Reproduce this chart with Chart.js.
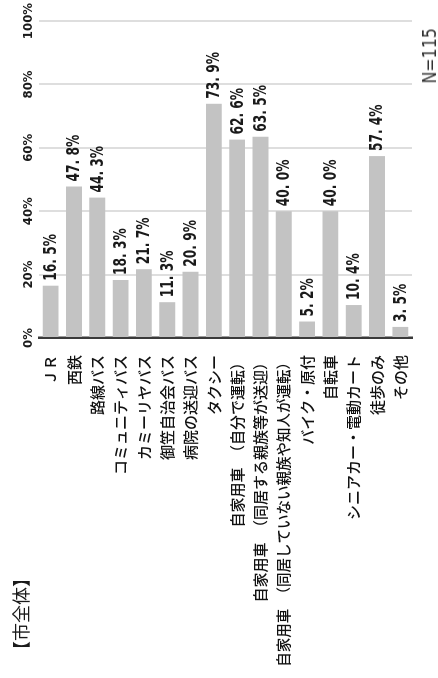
<!DOCTYPE html>
<html lang="ja">
<head>
<meta charset="utf-8">
<title>移動手段（市全体）</title>
<script src="https://cdn.jsdelivr.net/npm/chart.js@4/dist/chart.umd.min.js"></script>
<style>
  html, body { margin: 0; padding: 0; background: #fff; overflow: hidden; }
  body { width: 438px; height: 678px; position: relative; }
  /* The chart is laid out as a horizontal bar chart and turned a quarter turn
     so that the page reads sideways, as in the printed report. */
  #sheet {
    position: absolute; left: 0; top: 0;
    width: 678px; height: 438px;
    transform-origin: 0 0;
    transform: translate(0, 678px) rotate(-90deg);
  }
  #sheet canvas { display: block; }
  .note { position: absolute; white-space: nowrap; color: #1a1a1a; }
  .heading {
    left: 19px; top: 7px; line-height: 20px;
    font: 18px "Noto Sans CJK JP", sans-serif;
  }
  .count {
    right: 28px; top: 417px; line-height: 24px;
    font: 20px "DejaVu Sans Condensed", sans-serif;
    color: #333;
    transform-origin: right center;
    transform: scaleX(0.88);
  }
</style>
</head>
<body>
<div id="sheet">
  <canvas id="chart" width="678" height="438"></canvas>
  <div class="note heading">【市全体】</div>
  <div class="note count">N=115</div>
</div>
<script>
// 利用している移動手段（複数回答）
const categories = [
  'ＪＲ',
  '西鉄',
  '路線バス',
  'コミュニティバス',
  'カミーリヤバス',
  '御笠自治会バス',
  '病院の送迎バス',
  'タクシー',
  '自家用車　（自分で運転）',
  '自家用車　（同居する親族等が送迎）',
  '自家用車　（同居していない親族や知人が運転）',
  'バイク・原付',
  '自転車',
  'シニアカー・電動カート',
  '徒歩のみ',
  'その他'
];
const shares = [16.5, 47.8, 44.3, 18.3, 21.7, 11.3, 20.9, 73.9, 62.6, 63.5, 40.0, 5.2, 40.0, 10.4, 57.4, 3.5];
const percentTicks = [0, 20, 40, 60, 80, 100];

const formatShare = v => v.toFixed(1).replace('.', '. ') + '%';

// Writes each bar's percentage just past the end of the bar, in a narrow face.
const shareLabels = {
  id: 'shareLabels',
  afterDatasetsDraw(chart) {
    const { ctx } = chart;
    const meta = chart.getDatasetMeta(0);
    const values = chart.data.datasets[0].data;
    ctx.save();
    ctx.font = 'bold 17px "DejaVu Sans Condensed", sans-serif';
    ctx.fillStyle = '#1a1a1a';
    ctx.textAlign = 'left';
    ctx.textBaseline = 'middle';
    meta.data.forEach((bar, i) => {
      const text = formatShare(values[i]);
      const narrow = ctx.measureText(text).width * 0.8;
      ctx.fillText(text, bar.x + 5, bar.y + 1, narrow);
    });
    ctx.restore();
  }
};

new Chart(document.getElementById('chart'), {
  type: 'bar',
  data: {
    labels: categories,
    datasets: [{
      data: shares,
      backgroundColor: '#c3c3c3',
      borderWidth: 0,
      barPercentage: 0.68,
      categoryPercentage: 1
    }]
  },
  options: {
    indexAxis: 'y',
    responsive: false,
    animation: false,
    devicePixelRatio: 1,
    layout: { padding: { left: 0, right: 18, top: 0, bottom: 0 } },
    plugins: {
      legend: { display: false },
      tooltip: { enabled: false }
    },
    scales: {
      x: {
        position: 'top',
        min: percentTicks[0],
        max: percentTicks[percentTicks.length - 1],
        afterBuildTicks: scale => { scale.ticks = percentTicks.map(v => ({ value: v })); },
        ticks: {
          callback: v => v + '%',
          color: '#1a1a1a',
          padding: 3,
          font: { family: '"DejaVu Sans Condensed", sans-serif', size: 13, weight: 'bold' }
        },
        grid: { color: 'rgba(0,0,0,0.13)', lineWidth: 2, drawTicks: false },
        border: { display: false },
        afterFit: scale => { scale.height = 39; }
      },
      y: {
        ticks: {
          autoSkip: false,
          color: '#111',
          padding: 17,
          font: ctx => ({
            family: '"Noto Sans CJK JP", sans-serif',
            weight: 500,
            size: (categories[ctx.index] || '').length > 20 ? 14.5 : 15
          })
        },
        grid: { display: false, drawTicks: false },
        border: { display: true, color: '#3a3a3a', width: 2.5 },
        afterFit: scale => { scale.width = 340; }
      }
    }
  },
  plugins: [shareLabels]
});
</script>
</body>
</html>
